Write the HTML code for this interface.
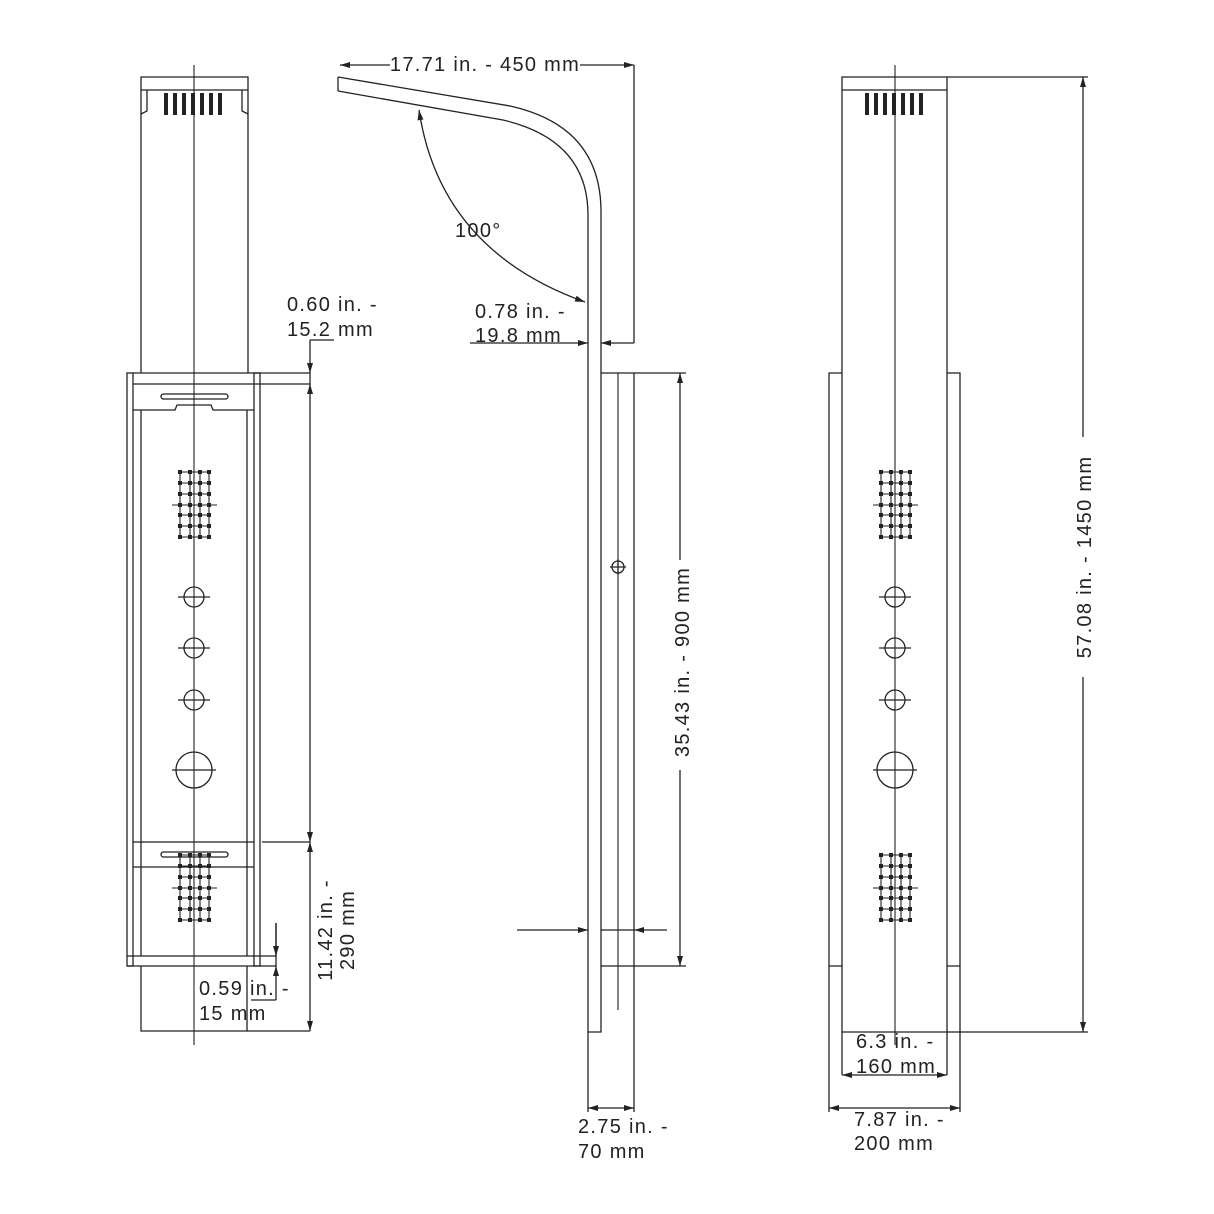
<!DOCTYPE html>
<html><head><meta charset="utf-8"><style>
html,body{margin:0;padding:0;background:#fff}
svg{display:block}
text{font-family:"Liberation Sans",sans-serif;font-size:20px;letter-spacing:1.3px;fill:#222}
</style></head><body>
<svg width="1214" height="1214" viewBox="0 0 1214 1214" xmlns="http://www.w3.org/2000/svg">
<defs>
<marker id="a" viewBox="0 0 10 6" refX="10" refY="3" markerWidth="14" markerHeight="6" markerUnits="userSpaceOnUse" orient="auto-start-reverse"><path d="M0,0L10,3L0,6z" fill="#222"/></marker>
<g id="grid" fill="#222">
<g stroke="#222" stroke-width="1.1" fill="none">
<path d="M180,0V65M190,0V65M200,0V65M209,0V65M180,0H209M180,11H209M180,22H209M180,33H209M180,43H209M180,54H209M180,65H209"/>
<path d="M172,33H217"/>
</g>
<g>
<rect x="178" y="-2" width="4" height="4"/><rect x="188" y="-2" width="4" height="4"/><rect x="198" y="-2" width="4" height="4"/><rect x="207" y="-2" width="4" height="4"/>
<rect x="178" y="9" width="4" height="4"/><rect x="188" y="9" width="4" height="4"/><rect x="198" y="9" width="4" height="4"/><rect x="207" y="9" width="4" height="4"/>
<rect x="178" y="20" width="4" height="4"/><rect x="188" y="20" width="4" height="4"/><rect x="198" y="20" width="4" height="4"/><rect x="207" y="20" width="4" height="4"/>
<rect x="178" y="31" width="4" height="4"/><rect x="188" y="31" width="4" height="4"/><rect x="198" y="31" width="4" height="4"/><rect x="207" y="31" width="4" height="4"/>
<rect x="178" y="41" width="4" height="4"/><rect x="188" y="41" width="4" height="4"/><rect x="198" y="41" width="4" height="4"/><rect x="207" y="41" width="4" height="4"/>
<rect x="178" y="52" width="4" height="4"/><rect x="188" y="52" width="4" height="4"/><rect x="198" y="52" width="4" height="4"/><rect x="207" y="52" width="4" height="4"/>
<rect x="178" y="63" width="4" height="4"/><rect x="188" y="63" width="4" height="4"/><rect x="198" y="63" width="4" height="4"/><rect x="207" y="63" width="4" height="4"/>
</g></g>
<g id="knobs" stroke="#222" stroke-width="1.3" fill="none">
<circle cx="194" cy="597" r="10"/><path d="M178,597H210"/>
<circle cx="194" cy="648" r="10"/><path d="M178,648H210"/>
<circle cx="194" cy="700" r="10"/><path d="M178,700H210"/>
<circle cx="194" cy="770" r="18"/><path d="M172,770H216"/>
</g>
<g id="slots" fill="#222">
<rect x="164" y="93" width="4" height="22"/><rect x="173" y="93" width="4" height="22"/><rect x="182" y="93" width="4" height="22"/><rect x="191" y="93" width="4" height="22"/><rect x="200" y="93" width="4" height="22"/><rect x="209" y="93" width="4" height="22"/><rect x="218" y="93" width="4" height="22"/>
</g>
</defs>

<g stroke="#222" stroke-width="1.3" fill="none">
<path d="M141,373V77H248V373M141,90H248M147,90V111L141,114M242,90V111L248,114"/>
<path d="M194,65V1045" stroke-width="1.1"/>
<rect x="127" y="373" width="6" height="593"/>
<rect x="254" y="373" width="6" height="593"/>
<path d="M133,373H310V384H133M133,410H175L177,405H211L213,410H254"/>
<rect x="161" y="394" width="67" height="5" rx="2.5"/>
<path d="M141,410V956M247,410V956"/>
<path d="M133,842H254M133,867H254"/>
<rect x="161" y="852" width="67" height="5" rx="2.5"/>
<path d="M127,956H276V966H127"/>
<path d="M141,966V1031H247V966"/>
<path d="M262,842H310M247,1031H310M276,956V923"/>
<path d="M310,340V373" marker-end="url(#a)"/>
<path d="M310,416V384" marker-end="url(#a)"/>
<path d="M310,340H334"/>
<path d="M310,416V842" marker-end="url(#a)"/>
<path d="M310,842V1031" marker-start="url(#a)" marker-end="url(#a)"/>
<path d="M276,923V956" marker-end="url(#a)"/>
<path d="M276,1000V966" marker-end="url(#a)"/>
<path d="M251,1000H276"/>

<path d="M338,77L510,106Q600,126 601,210V966"/>
<path d="M338,91L503,120Q588,140 588,215V1032H601V966"/>
<path d="M338,77V91"/>
<path d="M601,373H634M601,966H686"/>
<path d="M634,65V343M634,373V1112"/>
<path d="M618,373V1010" stroke-width="1.1"/>
<circle cx="618" cy="567" r="6"/><path d="M610,567H626M618,559V575"/>
<path d="M634,373H686"/>
<path d="M680,373V966" marker-start="url(#a)" marker-end="url(#a)"/>
<path d="M390,65H340" marker-end="url(#a)"/>
<path d="M580,65H634" marker-end="url(#a)"/>
<path d="M470,343H588" marker-end="url(#a)"/>
<path d="M634,343H601" marker-end="url(#a)"/>
<path d="M517,930H588" marker-end="url(#a)"/>
<path d="M601,930H634"/>
<path d="M667,930H634" marker-end="url(#a)"/>
<path d="M588,1032V1112"/>
<path d="M588,1108H634" marker-start="url(#a)" marker-end="url(#a)"/>
<path d="M585,302Q440,250 419,110" marker-start="url(#a)" marker-end="url(#a)"/>

<path d="M842,1075V77H947V1075M842,90H947"/>
<path d="M895,65V1045" stroke-width="1.1"/>
<path d="M842,373H829V1112M947,373H960V1112M829,966H842M947,966H960"/>
<path d="M842,1032H1088M947,77H1088"/>
<path d="M1083,77V1032" marker-start="url(#a)" marker-end="url(#a)"/>
<path d="M842,1075H947" marker-start="url(#a)" marker-end="url(#a)"/>
<path d="M829,1108H960" marker-start="url(#a)" marker-end="url(#a)"/>
</g>

<use href="#slots"/>
<use href="#slots" x="701"/>
<use href="#grid" y="472"/>
<use href="#grid" y="855"/>
<use href="#grid" x="701" y="472"/>
<use href="#grid" x="701" y="855"/>
<use href="#knobs"/>
<use href="#knobs" x="701"/>

<g>
<text x="287" y="311">0.60 in. -</text>
<text x="287" y="336">15.2 mm</text>
<text x="199" y="995">0.59 in. -</text>
<text x="199" y="1020">15 mm</text>
<text transform="translate(332,930) rotate(-90)" text-anchor="middle">11.42 in. -</text>
<text transform="translate(354,930) rotate(-90)" text-anchor="middle">290 mm</text>
<rect x="390" y="52" width="190" height="22" fill="#fff"/>
<text x="485" y="71" text-anchor="middle">17.71 in. - 450 mm</text>
<text x="455" y="237">100°</text>
<text x="475" y="318">0.78 in. -</text>
<text x="475" y="342">19.8 mm</text>
<rect x="670" y="560" width="22" height="210" fill="#fff"/>
<text transform="translate(689,662) rotate(-90)" text-anchor="middle">35.43 in. - 900 mm</text>
<text x="578" y="1133">2.75 in. -</text>
<text x="578" y="1158">70 mm</text>
<rect x="1073" y="437" width="22" height="240" fill="#fff"/>
<text transform="translate(1091,557) rotate(-90)" text-anchor="middle">57.08 in. - 1450 mm</text>
<text x="856" y="1048">6.3 in. -</text>
<text x="856" y="1073">160 mm</text>
<text x="854" y="1126">7.87 in. -</text>
<text x="854" y="1150">200 mm</text>
</g>
</svg>
</body></html>
